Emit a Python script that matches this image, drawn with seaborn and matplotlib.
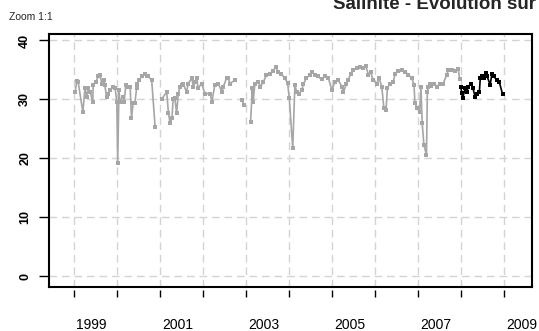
import numpy as np
import pandas as pd
import matplotlib
matplotlib.use("Agg")
import matplotlib.pyplot as plt
import seaborn as sns

sns.set_theme(style="white")
plt.rcParams["font.family"] = ["Liberation Sans", "DejaVu Sans"]

NA = np.nan

# Historical salinity record (decimal year, salinity); NA marks a break in the record
hist_year = [
    1999.02, 1999.06, 1999.09, 1999.20, 1999.25, 1999.29, 1999.33, 1999.37, 1999.43, 1999.44,
    1999.50, 1999.56, 1999.60, 1999.64, 1999.69, 1999.71, 1999.75, 1999.79, 1999.83, 1999.89,
    1999.95, 1999.99, 2000.01, 2000.04, 2000.06, 2000.13, 2000.16, 2000.20, 2000.26, 2000.30,
    2000.33, 2000.37, 2000.41, 2000.45, 2000.47, 2000.51, 2000.57, 2000.64, 2000.68, 2000.72,
    2000.80, 2000.88, 2000.95,
    2001.03, 2001.15, 2001.19, 2001.23, 2001.27, 2001.30, 2001.34, 2001.38, 2001.42, 2001.46,
    2001.50, 2001.53, 2001.61, 2001.65, 2001.73, 2001.77, 2001.81, 2001.85, 2001.88, 2001.96,
    2002.04, 2002.16, 2002.20, 2002.27, 2002.35, 2002.43, 2002.47, 2002.54, 2002.58, 2002.62,
    2002.74, 2002.82,
    2002.89, 2002.95, 2003.02,
    2003.10, 2003.14, 2003.16, 2003.20, 2003.28, 2003.33, 2003.40, 2003.47, 2003.55, 2003.61,
    2003.69, 2003.74, 2003.80, 2003.90, 2003.96, 2004.00, 2004.08, 2004.13, 2004.17, 2004.23,
    2004.29, 2004.33, 2004.40, 2004.48, 2004.53, 2004.60, 2004.67, 2004.75, 2004.83, 2004.91,
    2004.99, 2005.06, 2005.14, 2005.22, 2005.26, 2005.33, 2005.37, 2005.43, 2005.49, 2005.57,
    2005.64, 2005.72, 2005.78, 2005.84, 2005.89, 2005.95, 2006.03, 2006.09, 2006.15, 2006.20,
    2006.25, 2006.28, 2006.34, 2006.42, 2006.46, 2006.53, 2006.61, 2006.69, 2006.77, 2006.85,
    2006.90, 2006.92, 2006.98, 2007.03, 2007.06, 2007.09, 2007.13, 2007.19, 2007.21, 2007.23,
    2007.26, 2007.30, 2007.36, 2007.44, 2007.50, 2007.58, 2007.66, 2007.70, 2007.78, 2007.85,
    2007.93, 2007.96,
]
hist_sal = [
    31.2, 33.2, 33.0, 27.9, 31.9, 30.5, 31.9, 31.3, 29.6, 32.5,
    33.0, 33.9, 34.2, 32.7, 33.3, 32.5, 30.5, 31.0, 31.6, 32.2,
    31.9, 29.6, 19.2, 31.6, 29.6, 30.5, 29.6, 32.5, 32.2, 32.2,
    26.8, 29.4, 29.4, 31.9, 32.7, 33.3, 33.9, 34.4, 34.0, 33.9,
    33.3, 25.4, NA,
    30.0, 31.3, 27.7, 26.0, 26.8, 30.0, 30.2, 27.7, 31.0, 32.2,
    32.5, 32.7, 31.3, 32.7, 33.6, 32.2, 33.0, 33.6, 31.9, 32.7,
    31.0, 31.0, 29.6, 32.5, 32.7, 31.3, 32.2, 33.6, 33.6, 32.7,
    33.3, NA,
    29.9, 29.1, NA,
    26.2, 31.9, 29.6, 32.7, 33.0, 32.2, 33.0, 34.2, 34.4, 34.8,
    35.5, 34.7, 34.4, 33.6, 32.8, 30.2, 21.7, 32.5, 31.3, 31.0,
    31.6, 32.7, 33.6, 34.2, 34.7, 34.2, 33.9, 33.4, 33.9, 33.6,
    31.6, 33.0, 33.3, 32.2, 31.3, 32.7, 33.3, 34.4, 35.0, 35.3,
    35.5, 35.3, 35.6, 34.2, 34.7, 33.3, 32.7, 33.6, 32.2, 28.5,
    28.2, 31.9, 32.7, 33.0, 34.4, 34.9, 35.0, 34.7, 34.2, 33.6,
    32.5, 29.4, 28.5, 27.9, 32.2, 26.0, 22.3, 20.6, 31.3, 32.2,
    32.7, 32.3, 32.7, 32.2, 32.7, 32.7, 34.2, 35.0, 35.0, 34.9,
    35.1, 33.5,
]

# Current year record
recent_year = [
    2007.99, 2008.01, 2008.03, 2008.09, 2008.13, 2008.16, 2008.22, 2008.27, 2008.32, 2008.36,
    2008.42, 2008.44, 2008.47, 2008.53, 2008.57, 2008.60, 2008.67, 2008.71, 2008.76, 2008.82,
    2008.88, 2008.96,
]
recent_sal = [
    32.1, 31.1, 30.2, 31.9, 31.3, 32.2, 32.6, 31.9, 30.5, 31.0,
    31.3, 33.6, 33.9, 33.6, 34.5, 33.9, 32.5, 34.3, 33.9, 33.3,
    33.0, 30.9,
]

year_ticks = list(range(1999, 2010))
year_labels = [str(y) for y in range(1999, 2010, 2)]
sal_ticks = [0, 10, 20, 30, 40]


def to_frame(years, values, name):
    df = pd.DataFrame({"annee": years, "salinite": values})
    df["segment"] = name + "_" + df["salinite"].isna().cumsum().astype(str)
    df["serie"] = name
    return df.dropna()


data = pd.concat([to_frame(hist_year, hist_sal, "historique"),
                  to_frame(recent_year, recent_sal, "courant")],
                 ignore_index=True)

W, H = 539, 331
fig = plt.figure(figsize=(W / 100, H / 100), dpi=100)
fig.patch.set_facecolor("white")
left, right, top, bottom = 49.3, 532.3, 34.0, 287.0
ax = fig.add_axes([left / W, 1 - bottom / H, (right - left) / W, (bottom - top) / H])

# dashed reference grid
grid_kw = dict(color="#D3D3D3", linewidth=1.0, linestyle=(0, (5.5, 3.5)))
ax.set_xticks(year_ticks)
ax.set_yticks(sal_ticks)
ax.grid(True, which="major", **grid_kw)
ax.set_axisbelow(True)

sns.lineplot(data=data, x="annee", y="salinite", hue="serie", units="segment",
             estimator=None, sort=False,
             palette={"historique": "#A6A6A6", "courant": "black"},
             marker="s", markersize=3.5, markeredgewidth=0,
             linewidth=1.2, legend=False, ax=ax)

ax.set_xlim(1998.42, 2009.65)
ax.set_ylim(-1.78, 41.1)
ax.set_xlabel("")
ax.set_ylabel("")

# frame
for side in ("left", "top", "right"):
    ax.spines[side].set_color("black")
    ax.spines[side].set_linewidth(1.5)
ax.spines["bottom"].set_position(("outward", 2.2))
ax.spines["bottom"].set_visible(False)
ax.plot([0, 1], [0, 0], transform=ax.transAxes, color="black", lw=1.5,
        clip_on=False, solid_capstyle="projecting")

# x axis: ticks at every year, labels on odd years
ax.tick_params(axis="x", which="major", length=5, width=1.0, color="black",
               direction="out", bottom=True, labelbottom=False)
ax.set_xticks([int(y) + 0.4 for y in year_labels], minor=True)
ax.set_xticklabels(year_labels, minor=True)
ax.tick_params(axis="x", which="minor", length=0, pad=20, labelsize=10,
               labelcolor="black", bottom=True)

# y axis
ax.tick_params(axis="y", which="major", length=7.5, width=1.0, color="black",
               direction="out", left=True, pad=5.5, labelsize=9, labelcolor="black")
ax.set_yticklabels([str(v) for v in sal_ticks])
for lbl in ax.get_yticklabels():
    lbl.set_rotation(90)
    lbl.set_va("center")
    lbl.set_fontweight("bold")

fig.text(9 / W, 1 - 20 / H, "Zoom 1:1", fontsize=7.5, ha="left", va="baseline")
fig.text(333 / W, 1 - 9 / H, "Salinité - Evolution sur la période", fontsize=13.5,
         fontweight="bold", ha="left", va="baseline")

fig.savefig("out.png", dpi=100, facecolor="white")
